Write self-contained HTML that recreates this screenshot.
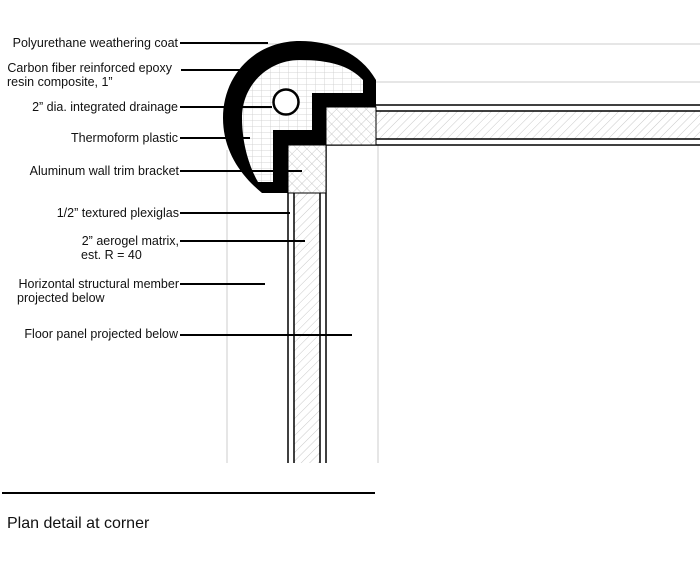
<!DOCTYPE html>
<html><head><meta charset="utf-8"><style>
body{margin:0;background:#fff;width:700px;height:563px;overflow:hidden}
svg{display:block}
text{font-family:"Liberation Sans",sans-serif;font-size:12.5px;fill:#111}
</style></head><body>
<svg width="700" height="563" viewBox="0 0 700 563">
<defs>
<pattern id="diag" width="6" height="6" patternUnits="userSpaceOnUse" patternTransform="rotate(45)">
<line x1="0" y1="0" x2="0" y2="6" stroke="#bbb" stroke-width="0.8"/></pattern>
<pattern id="cross" width="7" height="7" patternUnits="userSpaceOnUse" patternTransform="rotate(45)">
<rect width="7" height="7" fill="#fff"/>
<line x1="0" y1="0" x2="0" y2="7" stroke="#bbb" stroke-width="0.8"/>
<line x1="0" y1="0" x2="7" y2="0" stroke="#bbb" stroke-width="0.8"/></pattern>
<pattern id="grid" width="9" height="6" patternUnits="userSpaceOnUse">
<rect width="9" height="6" fill="#fff"/>
<line x1="0" y1="0" x2="0" y2="6" stroke="#ccc" stroke-width="0.8"/>
<line x1="0" y1="0" x2="9" y2="0" stroke="#ccc" stroke-width="0.8"/></pattern>
</defs>
<g stroke="#ccc" stroke-width="1">
<line x1="230" y1="44" x2="700" y2="44"/>
<line x1="340" y1="82" x2="700" y2="82"/>
<line x1="227" y1="150" x2="227" y2="463"/>
<line x1="378" y1="145" x2="378" y2="463"/>
</g>
<rect x="376" y="111" width="324" height="28" fill="url(#diag)"/>
<g stroke="#000" stroke-width="1.5">
<line x1="376" y1="105" x2="700" y2="105"/>
<line x1="376" y1="111" x2="700" y2="111"/>
<line x1="376" y1="139" x2="700" y2="139"/>
<line x1="326" y1="145" x2="700" y2="145"/>
</g>
<rect x="294" y="193" width="26" height="270" fill="url(#diag)"/>
<g stroke="#000" stroke-width="1.5">
<line x1="288" y1="193" x2="288" y2="463"/>
<line x1="294" y1="193" x2="294" y2="463"/>
<line x1="320" y1="193" x2="320" y2="463"/>
<line x1="326" y1="145" x2="326" y2="463"/>
</g>
<path d="M376 107 L376 80 C360 52,330 41,300 41 C255 41,223 75,223 118 C223 150,240 175,262 193 L288 193 L288 145 L326 145 L326 107 Z" fill="#000"/>
<path d="M363 93 L363 80 C350 66,330 60,300 60 C268 60,242 85,242 118 C242 145,250 168,258 182 L273 182 L273 130 L312 130 L312 93 Z" fill="url(#grid)"/>
<rect x="326" y="107" width="50" height="38" fill="url(#cross)" stroke="#000" stroke-width="1"/>
<rect x="288" y="145" width="38" height="48" fill="url(#cross)" stroke="#000" stroke-width="1"/>
<circle cx="286" cy="102" r="12.5" fill="#fff" stroke="#000" stroke-width="2.5"/>
<g stroke="#000" stroke-width="2">
<line x1="180" y1="43" x2="268" y2="43"/>
<line x1="181" y1="70" x2="248" y2="70"/>
<line x1="180" y1="107" x2="272" y2="107"/>
<line x1="180" y1="138" x2="250" y2="138"/>
<line x1="180" y1="171" x2="302" y2="171"/>
<line x1="180" y1="213" x2="290" y2="213"/>
<line x1="180" y1="241" x2="305" y2="241"/>
<line x1="180" y1="284" x2="265" y2="284"/>
<line x1="180" y1="335" x2="352" y2="335"/>
</g>
<g text-anchor="end">
<text x="178" y="47">Polyurethane weathering coat</text>
<text x="172" y="72">Carbon fiber reinforced epoxy</text>
<text x="178" y="111">2” dia. integrated drainage</text>
<text x="178" y="142">Thermoform plastic</text>
<text x="179" y="175">Aluminum wall trim bracket</text>
<text x="179" y="217">1/2” textured plexiglas</text>
<text x="179" y="245">2” aerogel matrix,</text>
<text x="179" y="288">Horizontal structural member</text>
<text x="178" y="338">Floor panel projected below</text>
</g>
<text x="7" y="86">resin composite, 1”</text>
<text x="81" y="259">est. R = 40</text>
<text x="17" y="302">projected below</text>
<line x1="2" y1="493" x2="375" y2="493" stroke="#000" stroke-width="2"/>
<text x="7" y="528" style="font-size:16px">Plan detail at corner</text>
</svg>
</body></html>
